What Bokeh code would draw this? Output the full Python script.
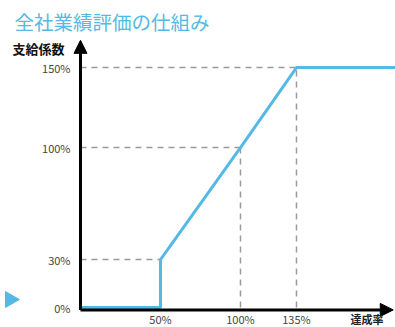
from bokeh.plotting import figure
from bokeh.models import Range1d, Label, Arrow, NormalHead
from bokeh.core.properties import value
from bokeh.embed import file_html
from bokeh.resources import INLINE
import math

# ---- data ----
title_text = "全社業績評価の仕組み"
y_axis_title = "支給係数"
x_axis_title = "達成率"

curve_x = [0, 50, 50, 100, 135, 200]
curve_y = [0, 0, 30, 100, 150, 150]

y_ticks = [0, 30, 100, 150]
y_tick_labels = ["0%", "30%", "100%", "150%"]
x_ticks = [50, 100, 135]
x_tick_labels = ["50%", "100%", "135%"]

# reference guide lines (horizontal: from y-axis to x; vertical: from 0 to y)
h_guides_y = [30, 100, 150]
h_guides_x = [50, 100, 135]
v_guides_x = [100, 135]
v_guides_y = [100, 150]

FONT = "Noto Sans CJK JP"
BLUE = "#55b9e6"

p = figure(width=395, height=327, output_backend="svg", toolbar_location=None,
           x_range=Range1d(-50, 196.9), y_range=Range1d(-12.5, 191.9),
           min_border=0, min_border_left=0, min_border_right=0,
           min_border_top=0, min_border_bottom=0)
p.axis.visible = False
p.grid.visible = False
p.outline_line_color = None
p.background_fill_color = "white"
p.border_fill_color = "white"

# dashed guides
p.multi_line(xs=[[0, gx] for gx in h_guides_x], ys=[[gy, gy] for gy in h_guides_y],
             line_color="#9a9a9a", line_width=1.5, line_dash="6 5")
p.multi_line(xs=[[gx, gx] for gx in v_guides_x], ys=[[0, gy] for gy in v_guides_y],
             line_color="#9a9a9a", line_width=1.5, line_dash="6 5")

# axes with arrow heads
p.add_layout(Arrow(end=NormalHead(size=13, fill_color="black", line_color="black"),
                   x_start=0, y_start=-1.5, x_end=0, y_end=167,
                   line_color="black", line_width=3))
p.add_layout(Arrow(end=NormalHead(size=13, fill_color="black", line_color="black"),
                   x_start=0, y_start=-1.5, x_end=195.5, y_end=-1.5,
                   line_color="black", line_width=3))

# payout curve
p.line(curve_x, curve_y, line_color=BLUE, line_width=3)

# tick labels
p.text(x=[0] * len(y_ticks), y=y_ticks, text=y_tick_labels, x_offset=-10,
       text_align="right", text_baseline="middle", text_font=value(FONT),
       text_font_size="11px", text_color="#444444")
p.text(x=x_ticks, y=[0] * len(x_ticks), text=x_tick_labels, y_offset=11,
       text_align="center", text_baseline="middle", text_font=value(FONT),
       text_font_size="11px", text_color="#444444")

# side marker arrow
p.scatter(x=[-44], y=[5], marker="triangle", size=16, angle=-math.pi / 2,
          fill_color=BLUE, line_color=BLUE)

# titles
p.add_layout(Label(x=14, y=306, x_units="screen", y_units="screen", text=title_text,
                   text_font=FONT, text_font_size="19.5px", text_color=BLUE,
                   text_baseline="middle"))
p.add_layout(Label(x=12, y=279, x_units="screen", y_units="screen", text=y_axis_title,
                   text_font=FONT, text_font_size="13px", text_color="#111111",
                   text_font_style="bold", text_baseline="middle"))
p.add_layout(Label(x=350, y=9, x_units="screen", y_units="screen", text=x_axis_title,
                   text_font=FONT, text_font_size="11px", text_color="#222222",
                   text_font_style="bold", text_baseline="middle"))

open("out.html", "w").write(file_html(p, INLINE))
